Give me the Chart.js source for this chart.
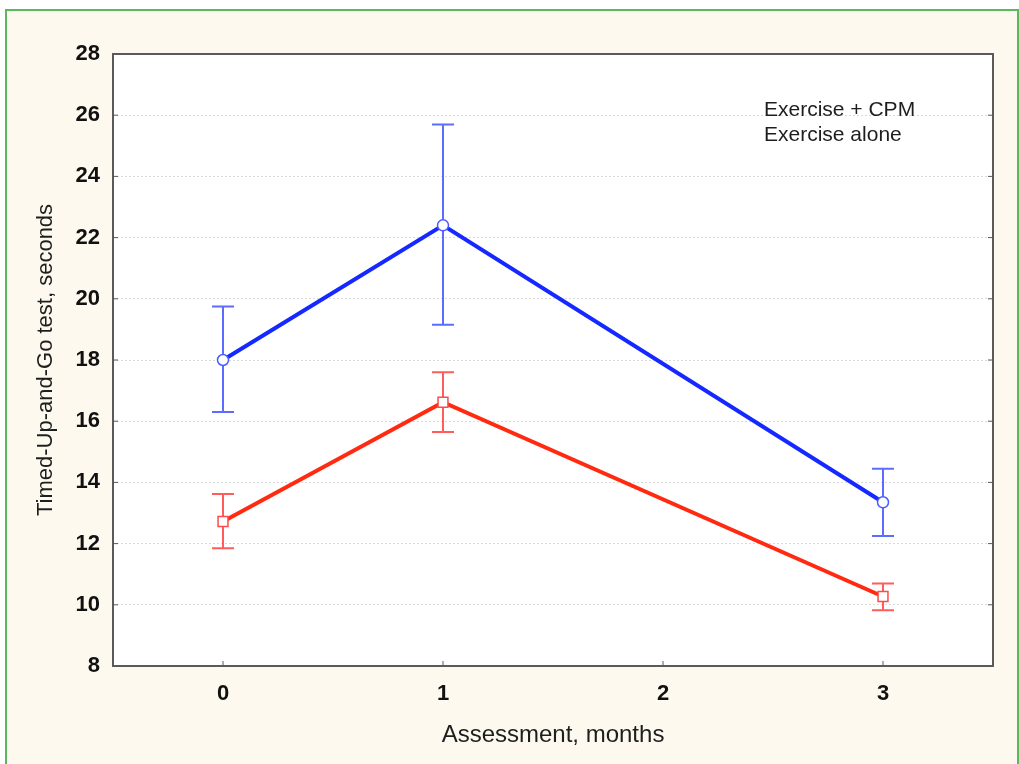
<!DOCTYPE html>
<html>
<head>
<meta charset="utf-8">
<script src="https://cdn.jsdelivr.net/npm/chart.js@4"></script>
<style>
  html, body { margin: 0; padding: 0; background: #ffffff; overflow: hidden; }
  #frame {
    position: absolute; left: 5px; top: 9px; width: 1010px; height: 800px;
    background: #fdf9ef; border: 2px solid #5cb85c;
  }
  #chart { position: absolute; left: 0; top: 0; }
</style>
</head>
<body>
<div id="frame"></div>
<canvas id="chart" width="1019" height="764"></canvas>
<script>
// values
const months = [0, 1, 3];
const xTicks = [0, 1, 2, 3];
const yTicks = [8, 10, 12, 14, 16, 18, 20, 22, 24, 26, 28];

const cpmLabel = "Exercise + CPM";
const cpmMean = [18.0, 22.4, 13.35];
const cpmLow = [16.3, 19.15, 12.25];
const cpmHigh = [19.75, 25.7, 14.45];

const aloneLabel = "Exercise alone";
const aloneMean = [12.72, 16.62, 10.27];
const aloneLow = [11.85, 15.65, 9.82];
const aloneHigh = [13.62, 17.6, 10.7];

const toPoints = (xs, ys) => xs.map((x, i) => ({ x: x, y: ys[i] }));

const errorBars = [
  { low: cpmLow, high: cpmHigh, color: "#5b6cff" },
  { low: aloneLow, high: aloneHigh, color: "#ff5c5c" },
];

const plotDecor = {
  id: "plotDecor",
  beforeDraw(chart) {
    const { ctx, chartArea: a } = chart;
    ctx.save();
    ctx.fillStyle = "#ffffff";
    ctx.fillRect(a.left, a.top, a.right - a.left, a.bottom - a.top);
    ctx.restore();
  },
  beforeDatasetsDraw(chart) {
    const { ctx, scales } = chart;
    ctx.save();
    ctx.lineWidth = 2;
    errorBars.forEach((eb) => {
      ctx.strokeStyle = eb.color;
      months.forEach((m, i) => {
        const x = scales.x.getPixelForValue(m);
        const yl = scales.y.getPixelForValue(eb.low[i]);
        const yh = scales.y.getPixelForValue(eb.high[i]);
        ctx.beginPath();
        ctx.moveTo(x, yl); ctx.lineTo(x, yh);
        ctx.moveTo(x - 11, yl); ctx.lineTo(x + 11, yl);
        ctx.moveTo(x - 11, yh); ctx.lineTo(x + 11, yh);
        ctx.stroke();
      });
    });
    ctx.restore();
  },
  afterDraw(chart) {
    const { ctx, chartArea: a, scales } = chart;
    ctx.save();
    // frame
    ctx.strokeStyle = "#5a5a5a";
    ctx.lineWidth = 2;
    ctx.strokeRect(a.left, a.top, a.right - a.left, a.bottom - a.top);
    // small inner tick marks
    ctx.lineWidth = 1;
    ctx.beginPath();
    xTicks.forEach((v) => {
      const x = scales.x.getPixelForValue(v);
      ctx.moveTo(x, a.bottom); ctx.lineTo(x, a.bottom - 5);
    });
    yTicks.forEach((v) => {
      const y = scales.y.getPixelForValue(v);
      ctx.moveTo(a.left, y); ctx.lineTo(a.left + 5, y);
      ctx.moveTo(a.right, y); ctx.lineTo(a.right - 5, y);
    });
    ctx.stroke();
    // legend (text only)
    ctx.fillStyle = "#1e1e1e";
    ctx.font = "21px 'Liberation Sans', Arial, sans-serif";
    ctx.textBaseline = "middle";
    chart.data.datasets.forEach((ds, i) => {
      ctx.fillText(ds.label, 764, 110 + i * 25);
    });
    ctx.restore();
  },
};

new Chart("chart", {
  type: "line",
  data: {
    datasets: [
      {
        label: cpmLabel,
        data: toPoints(months, cpmMean),
        borderColor: "#1428ff",
        borderWidth: 4,
        pointStyle: "circle",
        pointRadius: 5.5,
        pointBorderWidth: 1.5,
        pointBorderColor: "#4a5cff",
        pointBackgroundColor: "#ffffff",
        fill: false,
      },
      {
        label: aloneLabel,
        data: toPoints(months, aloneMean),
        borderColor: "#ff2a10",
        borderWidth: 4,
        pointStyle: "rect",
        pointRadius: 7,
        pointBorderWidth: 1.5,
        pointBorderColor: "#ff4a4a",
        pointBackgroundColor: "#ffffff",
        fill: false,
      },
    ],
  },
  options: {
    responsive: false,
    animation: false,
    layout: { padding: { left: 0, top: 54, right: 26, bottom: 0 } },
    plugins: { legend: { display: false }, tooltip: { enabled: false } },
    scales: {
      x: {
        type: "linear",
        min: -0.5,
        max: 3.5,
        afterBuildTicks: (s) => { s.ticks = xTicks.map((v) => ({ value: v })); },
        afterFit: (s) => { s.height = 98; },
        grid: { display: false, drawTicks: false },
        border: { display: false },
        ticks: {
          padding: 15,
          color: "#111111",
          font: { family: "'Liberation Sans', Arial, sans-serif", size: 22, weight: "bold" },
        },
        title: {
          display: true,
          text: "Assessment, months",
          color: "#1e1e1e",
          font: { family: "'Liberation Sans', Arial, sans-serif", size: 24 },
          padding: { top: 0, bottom: 14 },
        },
      },
      y: {
        min: 8,
        max: 28,
        afterBuildTicks: (s) => { s.ticks = yTicks.map((v) => ({ value: v })); },
        afterFit: (s) => { s.width = 113; },
        grid: { color: "#dadada", lineWidth: 1, drawTicks: false },
        border: { display: false, dash: [2, 2] },
        ticks: {
          padding: 13,
          color: "#111111",
          font: { family: "'Liberation Sans', Arial, sans-serif", size: 22, weight: "bold" },
        },
        title: {
          display: true,
          text: "Timed-Up-and-Go test, seconds",
          color: "#1e1e1e",
          font: { family: "'Liberation Sans', Arial, sans-serif", size: 22 },
          padding: { top: 33, bottom: 0 },
        },
      },
    },
  },
  plugins: [plotDecor],
});
</script>
</body>
</html>
